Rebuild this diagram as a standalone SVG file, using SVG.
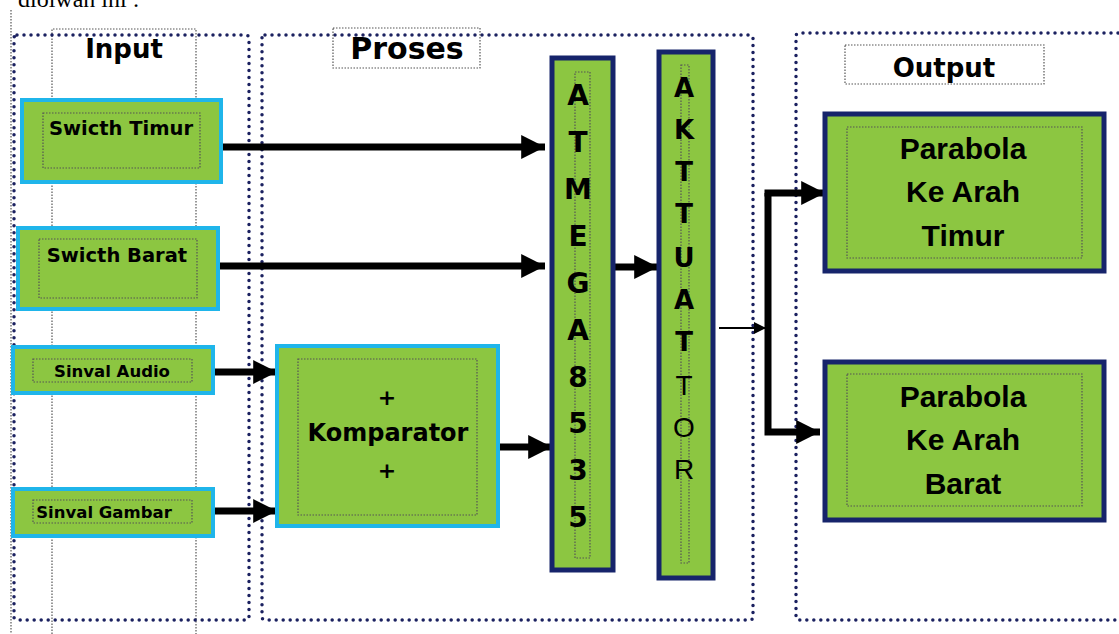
<svg xmlns="http://www.w3.org/2000/svg" width="1119" height="634" viewBox="0 0 1119 634">
<defs>
<style>
.grp{fill:none;stroke:#1b2160;stroke-width:3.5;stroke-dasharray:0 7;stroke-linecap:round}
.thin{fill:none;stroke:#555;stroke-width:1.2;stroke-dasharray:1.5 1.5}
.cy{fill:#8cc641;stroke:#1fb5ea;stroke-width:4}
.nv{fill:#8cc641;stroke:#16246b;stroke-width:5}
.t{font-family:"Liberation Sans",Arial,sans-serif;font-weight:bold;fill:#000}
.d{font-family:"DejaVu Sans",sans-serif;font-weight:bold;fill:#000}
.ln{fill:none;stroke:#000;stroke-width:7}
</style>
<marker id="ah" viewBox="0 0 10 10" refX="10" refY="5" markerWidth="3.4" markerHeight="3.8" orient="auto" markerUnits="strokeWidth"><path d="M0,0L10,5L0,10z" fill="#000"/></marker>
<marker id="ahs" viewBox="0 0 10 10" refX="10" refY="5" markerWidth="6" markerHeight="7" orient="auto" markerUnits="strokeWidth"><path d="M0,0L10,5L0,10z" fill="#000"/></marker>
</defs>
<rect width="1119" height="634" fill="#fff"/>
<text x="18" y="7" font-family="Liberation Serif,serif" font-size="24" fill="#000">diolwan ini :</text>
<g id="frames">
<line x1="11" y1="10" x2="11" y2="634" class="thin"/>
<path d="M52,634V29H196V634" class="thin"/>
<rect x="14" y="35" width="235" height="585" rx="3" class="grp"/>
<rect x="262" y="35" width="491" height="585" rx="3" class="grp"/>
<path d="M1125,33H799a3,3 0 0 0-3,3V617a3,3 0 0 0 3,3H1125" class="grp"/>
</g>
<g id="label-input"><text x="124" y="58" text-anchor="middle" class="d" font-size="26">Input</text></g>
<g id="label-proses"><rect x="333" y="28" width="147" height="40" class="thin"/><text x="407" y="59" text-anchor="middle" class="d" font-size="30">Proses</text></g>
<g id="label-output"><rect x="845" y="45" width="199" height="39" class="thin"/><text x="944" y="77" text-anchor="middle" class="d" font-size="26">Output</text></g>
<g id="connectors">
<line x1="221" y1="147" x2="545" y2="147" class="ln" marker-end="url(#ah)"/>
<line x1="218" y1="266" x2="545" y2="266" class="ln" marker-end="url(#ah)"/>
<line x1="213" y1="372" x2="277" y2="372" class="ln" marker-end="url(#ah)"/>
<line x1="213" y1="511" x2="277" y2="511" class="ln" marker-end="url(#ah)"/>
<line x1="498" y1="447" x2="552" y2="447" class="ln" marker-end="url(#ah)"/>
<line x1="613" y1="267" x2="658" y2="267" class="ln" marker-end="url(#ah)"/>
<line x1="719" y1="328" x2="766" y2="328" stroke="#000" stroke-width="2" marker-end="url(#ahs)"/>
<path d="M768,193V432H820" class="ln" marker-end="url(#ah)"/>
<line x1="764.5" y1="193" x2="825" y2="193" class="ln" marker-end="url(#ah)"/>
</g>
<g id="swicth-timur"><rect x="22" y="100" width="199" height="82" class="cy"/><rect x="43" y="113" width="157" height="55" class="thin"/><text x="121" y="135" text-anchor="middle" class="d" font-size="19.5">Swicth Timur</text></g>
<g id="swicth-barat"><rect x="18" y="228" width="200" height="81" class="cy"/><rect x="39" y="239" width="158" height="59" class="thin"/><text x="117" y="262" text-anchor="middle" class="d" font-size="19.5">Swicth Barat</text></g>
<g id="sinval-audio"><rect x="13" y="347" width="200" height="46" class="cy"/><rect x="33" y="359" width="159" height="23" class="thin"/><text x="112" y="377" text-anchor="middle" class="d" font-size="16.5">Sinval Audio</text></g>
<g id="sinval-gambar"><rect x="13" y="489" width="200" height="47" class="cy"/><rect x="33" y="500" width="159" height="23" class="thin"/><text x="104" y="518" text-anchor="middle" class="d" font-size="16.5">Sinval Gambar</text></g>
<g id="komparator"><rect x="277" y="346" width="221" height="180" class="cy"/><rect x="298" y="359" width="179" height="156" class="thin"/>
<text x="387" y="405" text-anchor="middle" class="d" font-size="22">+</text>
<text x="388" y="441" text-anchor="middle" class="d" font-size="24">Komparator</text>
<text x="387" y="478" text-anchor="middle" class="d" font-size="22">+</text></g>
<g id="atmega8535"><rect x="552" y="58" width="61" height="512" class="nv"/><rect x="575" y="72" width="15" height="486" class="thin"/>
<g class="d" font-size="28" text-anchor="middle">
<text x="578" y="105">A</text><text x="578" y="152">T</text><text x="578" y="199">M</text><text x="578" y="246">E</text><text x="578" y="293">G</text><text x="578" y="340">A</text><text x="578" y="387">8</text><text x="578" y="433">5</text><text x="578" y="480">3</text><text x="578" y="527">5</text></g></g>
<g id="akttuattor"><rect x="659" y="52" width="54" height="526" class="nv"/><rect x="681" y="65" width="8" height="498" class="thin"/>
<g class="d" font-size="26" text-anchor="middle">
<text x="684" y="97">A</text><text x="684" y="139">K</text><text x="684" y="181">T</text><text x="684" y="223">T</text><text x="684" y="267">U</text><text x="684" y="309">A</text><text x="684" y="351">T</text></g>
<g font-family="Liberation Sans,Arial,sans-serif" font-size="28" text-anchor="middle" fill="#000">
<text x="684" y="395">T</text><text x="684" y="437">O</text><text x="684" y="479">R</text></g></g>
<g id="parabola-timur"><rect x="825" y="114" width="279" height="157" class="nv"/><rect x="847" y="127" width="235" height="131" class="thin"/>
<g class="t" font-size="30" text-anchor="middle"><text x="963" y="159">Parabola</text><text x="963" y="202">Ke Arah</text><text x="963" y="246">Timur</text></g></g>
<g id="parabola-barat"><rect x="825" y="362" width="279" height="158" class="nv"/><rect x="847" y="374" width="235" height="132" class="thin"/>
<g class="t" font-size="30" text-anchor="middle"><text x="963" y="407">Parabola</text><text x="963" y="450">Ke Arah</text><text x="963" y="494">Barat</text></g></g>
</svg>
